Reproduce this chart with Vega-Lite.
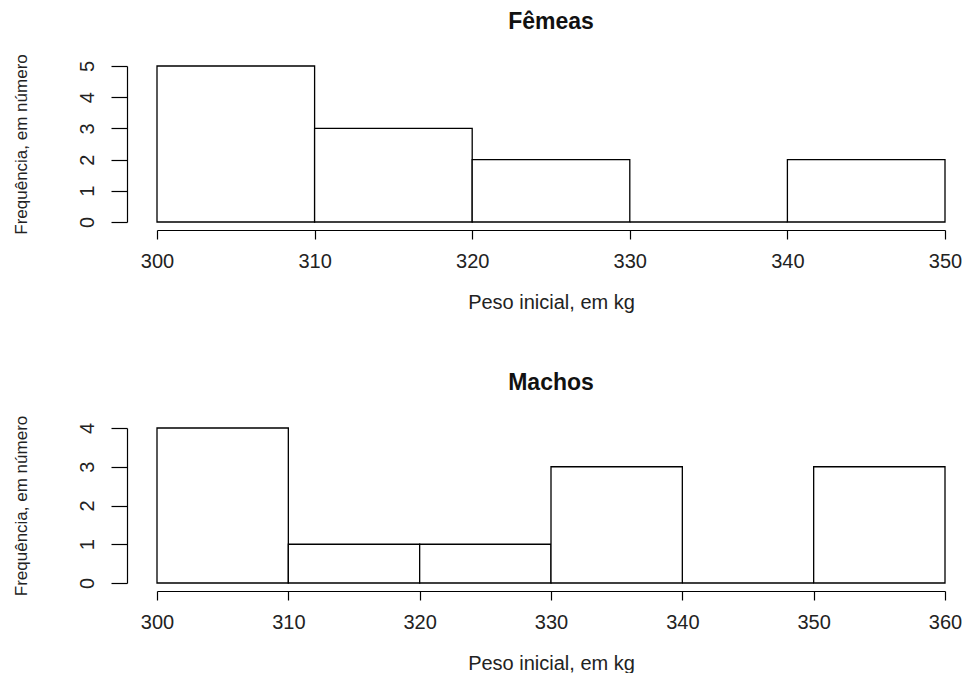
{
  "$schema": "https://vega.github.io/schema/vega-lite/v6.json",
  "background": "white",
  "padding": {"left": 12, "top": 10, "right": 5, "bottom": 0},
  "spacing": 60,
  "config": {
    "font": "Liberation Sans",
    "view": {"stroke": null},
    "axis": {
      "grid": false,
      "domainColor": "#000",
      "tickColor": "#000",
      "domainWidth": 1.2,
      "tickWidth": 1.2,
      "labelColor": "#222",
      "titleColor": "#222",
      "labelFont": "Liberation Sans",
      "titleFont": "Liberation Sans",
      "labelFontSize": 20,
      "titleFontSize": 20,
      "titleFontWeight": "normal"
    },
    "title": {"font": "Liberation Sans", "fontSize": 23, "fontWeight": "bold", "color": "#111", "anchor": "middle", "frame": "group"}
  },
  "datasets": {
    "femeas": [
      {"inicio": 300, "fim": 310, "frequencia": 5},
      {"inicio": 310, "fim": 320, "frequencia": 3},
      {"inicio": 320, "fim": 330, "frequencia": 2},
      {"inicio": 330, "fim": 340, "frequencia": 0},
      {"inicio": 340, "fim": 350, "frequencia": 2}
    ],
    "machos": [
      {"inicio": 300, "fim": 310, "frequencia": 4},
      {"inicio": 310, "fim": 320, "frequencia": 1},
      {"inicio": 320, "fim": 330, "frequencia": 1},
      {"inicio": 330, "fim": 340, "frequencia": 3},
      {"inicio": 340, "fim": 350, "frequencia": 0},
      {"inicio": 350, "fim": 360, "frequencia": 3}
    ]
  },
  "vconcat": [
    {
      "title": {"text": "Fêmeas", "offset": 20},
      "width": 788,
      "height": 156,
      "data": {"name": "femeas"},
      "mark": {"type": "bar", "fill": "white", "stroke": "#000", "strokeWidth": 1.3},
      "encoding": {
        "x": {
          "field": "inicio", "type": "quantitative",
          "scale": {"domain": [300, 350], "nice": false, "zero": false},
          "axis": {"title": "Peso inicial, em kg", "values": [300, 310, 320, 330, 340, 350], "offset": 8, "tickSize": 9, "labelPadding": 12, "titlePadding": 21, "labelFlush": false}
        },
        "x2": {"field": "fim"},
        "y": {
          "field": "frequencia", "type": "quantitative",
          "scale": {"domain": [0, 5], "nice": false},
          "axis": {"title": "Frequência, em número", "titleFontSize": 17, "values": [0, 1, 2, 3, 4, 5], "offset": 30, "tickSize": 16, "labelAngle": -90, "labelAlign": "center", "labelBaseline": "bottom", "labelPadding": 14, "titlePadding": 47, "labelFlush": false}
        },
        "y2": {"datum": 0}
      }
    },
    {
      "title": {"text": "Machos", "offset": 20},
      "width": 788,
      "height": 155,
      "data": {"name": "machos"},
      "mark": {"type": "bar", "fill": "white", "stroke": "#000", "strokeWidth": 1.3},
      "encoding": {
        "x": {
          "field": "inicio", "type": "quantitative",
          "scale": {"domain": [300, 360], "nice": false, "zero": false},
          "axis": {"title": "Peso inicial, em kg", "values": [300, 310, 320, 330, 340, 350, 360], "offset": 8, "tickSize": 9, "labelPadding": 12, "titlePadding": 21, "labelFlush": false}
        },
        "x2": {"field": "fim"},
        "y": {
          "field": "frequencia", "type": "quantitative",
          "scale": {"domain": [0, 4], "nice": false},
          "axis": {"title": "Frequência, em número", "titleFontSize": 17, "values": [0, 1, 2, 3, 4], "offset": 30, "tickSize": 16, "labelAngle": -90, "labelAlign": "center", "labelBaseline": "bottom", "labelPadding": 14, "titlePadding": 47, "labelFlush": false}
        },
        "y2": {"datum": 0}
      }
    }
  ]
}
